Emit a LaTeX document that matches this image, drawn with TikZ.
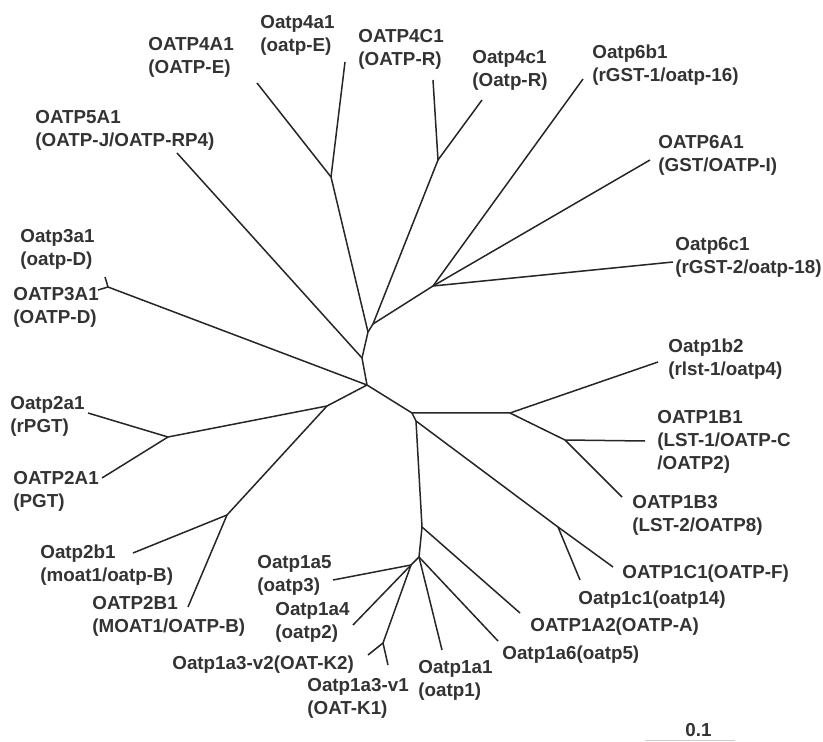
\documentclass[tikz,border=0pt]{standalone}
\usepackage{xcolor}
\usepackage{fontspec}
\setmainfont{Liberation Sans}

\tikzset{
    branch/.style={line width=0.75pt, black!85},
    lab/.style={anchor=base west, inner sep=0pt, align=left, text=black!80,
        font=\fontsize{9.4}{11.5}\selectfont\bfseries}
}

\begin{document}
\begin{tikzpicture}[x=0.5pt, y=-0.5pt]
    \useasboundingbox (0,0) rectangle (823,742);
    % inner nodes
    \coordinate (root) at (367,385);
    \coordinate (nA) at (362,358);
    \coordinate (nB) at (368,332);
    \coordinate (nC) at (373,324);
    \coordinate (n4A) at (331,177);
    \coordinate (n4C) at (438,160);
    \coordinate (n6) at (433,286);
    \coordinate (n3) at (108,287);
    \coordinate (nE) at (327,406);
    \coordinate (n2A) at (168,437);
    \coordinate (n2B) at (227,515);
    \coordinate (nH) at (412,413);
    \coordinate (nH2) at (416,421);
    \coordinate (n1B) at (510,413);
    \coordinate (n1Bb) at (565,440);
    \coordinate (n1C) at (558,527);
    \coordinate (nL) at (422,527);
    \coordinate (nM) at (419,557);
    \coordinate (nN) at (411,565);
    \coordinate (n1A3) at (383,643);
    % leaves
    \coordinate (t5A1) at (177,153);
    \coordinate (t4A1) at (257,83);
    \coordinate (t4a1) at (345,62);
    \coordinate (t4C1) at (433,80);
    \coordinate (t4c1) at (482,100);
    \coordinate (t6b1) at (583,79);
    \coordinate (t6A1) at (650,160);
    \coordinate (t6c1) at (673,262);
    \coordinate (t3a1) at (105,277);
    \coordinate (t3A1) at (98,290);
    \coordinate (t2a1) at (88,413);
    \coordinate (t2A1) at (102,478);
    \coordinate (t2b1) at (133,553);
    \coordinate (t2B1) at (188,607);
    \coordinate (t1b2) at (658,362);
    \coordinate (t1B1) at (645,441);
    \coordinate (t1B3) at (622,497);
    \coordinate (t1C1) at (613,567);
    \coordinate (t1c1) at (580,580);
    \coordinate (t1A2) at (520,613);
    \coordinate (t1a6) at (498,641);
    \coordinate (t1a1) at (442,650);
    \coordinate (t1a5) at (333,580);
    \coordinate (t1a4) at (353,625);
    \coordinate (t1a3v2) at (368,655);
    \coordinate (t1a3v1) at (388,665);

    % branches
    \draw[branch] (root) -- (nA) -- (nB) -- (nC);
    \draw[branch] (nA) -- (t5A1);
    \draw[branch] (nB) -- (n4A) -- (t4A1);
    \draw[branch] (n4A) -- (t4a1);
    \draw[branch] (nC) -- (n4C) -- (t4C1);
    \draw[branch] (n4C) -- (t4c1);
    \draw[branch] (nC) -- (n6) -- (t6b1);
    \draw[branch] (n6) -- (t6A1);
    \draw[branch] (n6) -- (t6c1);
    \draw[branch] (root) -- (n3) -- (t3a1);
    \draw[branch] (n3) -- (t3A1);
    \draw[branch] (root) -- (nE) -- (n2A) -- (t2a1);
    \draw[branch] (n2A) -- (t2A1);
    \draw[branch] (nE) -- (n2B) -- (t2b1);
    \draw[branch] (n2B) -- (t2B1);
    \draw[branch] (root) -- (nH) -- (n1B) -- (t1b2);
    \draw[branch] (n1B) -- (n1Bb) -- (t1B1);
    \draw[branch] (n1Bb) -- (t1B3);
    \draw[branch] (nH) -- (nH2) -- (n1C) -- (t1C1);
    \draw[branch] (n1C) -- (t1c1);
    \draw[branch] (nH2) -- (nL) -- (t1A2);
    \draw[branch] (nL) -- (nM) -- (t1a6);
    \draw[branch] (nM) -- (t1a1);
    \draw[branch] (nM) -- (nN) -- (t1a5);
    \draw[branch] (nN) -- (t1a4);
    \draw[branch] (nN) -- (n1A3) -- (t1a3v2);
    \draw[branch] (n1A3) -- (t1a3v1);

    % labels (anchored at the baseline of the last line)
    \node[lab] (l4A1) at (148,74) {OATP4A1\\(OATP-E)};
    \node[lab] (l4a1) at (260,52) {Oatp4a1\\(oatp-E)};
    \node[lab] (l4C1) at (358,66) {OATP4C1\\(OATP-R)};
    \node[lab] (l4c1) at (472,87) {Oatp4c1\\(Oatp-R)};
    \node[lab] (l6b1) at (592,82) {Oatp6b1\\(rGST-1/oatp-16)};
    \node[lab] (l6A1) at (658,172) {OATP6A1\\(GST/OATP-I)};
    \node[lab] (l6c1) at (675,274) {Oatp6c1\\(rGST-2/oatp-18)};
    \node[lab] (l5A1) at (35,147) {OATP5A1\\(OATP-J/OATP-RP4)};
    \node[lab] (l3a1) at (20,266) {Oatp3a1\\(oatp-D)};
    \node[lab] (l3A1) at (13,324) {OATP3A1\\(OATP-D)};
    \node[lab] (l2a1) at (10,432) {Oatp2a1\\(rPGT)};
    \node[lab] (l2A1) at (13,507) {OATP2A1\\(PGT)};
    \node[lab] (l2b1) at (40,581) {Oatp2b1\\(moat1/oatp-B)};
    \node[lab] (l2B1) at (92,632) {OATP2B1\\(MOAT1/OATP-B)};
    \node[lab] (l1a5) at (257,591) {Oatp1a5\\(oatp3)};
    \node[lab] (l1a4) at (275,638) {Oatp1a4\\(oatp2)};
    \node[lab] (l1a3v2) at (172,669) {Oatp1a3-v2(OAT-K2)};
    \node[lab] (l1a3v1) at (307,714) {Oatp1a3-v1\\(OAT-K1)};
    \node[lab] (l1a1) at (418,696) {Oatp1a1\\(oatp1)};
    \node[lab] (l1a6) at (502,659) {Oatp1a6(oatp5)};
    \node[lab] (l1A2) at (530,631) {OATP1A2(OATP-A)};
    \node[lab] (l1c1) at (578,604) {Oatp1c1(oatp14)};
    \node[lab] (l1C1) at (622,578) {OATP1C1(OATP-F)};
    \node[lab] (l1B3) at (632,531) {OATP1B3\\(LST-2/OATP8)};
    \node[lab] (l1B1) at (657,469) {OATP1B1\\(LST-1/OATP-C\\/OATP2)};
    \node[lab] (l1b2) at (668,376) {Oatp1b2\\(rlst-1/oatp4)};

    % scale
    \node[lab] (scl) at (685,736) {0.1};
    \coordinate (s0) at (645,740);
    \coordinate (s1) at (735,740);
    \draw[black!20, line width=0.5pt] (s0) -- (s1);
\end{tikzpicture}
\end{document}
